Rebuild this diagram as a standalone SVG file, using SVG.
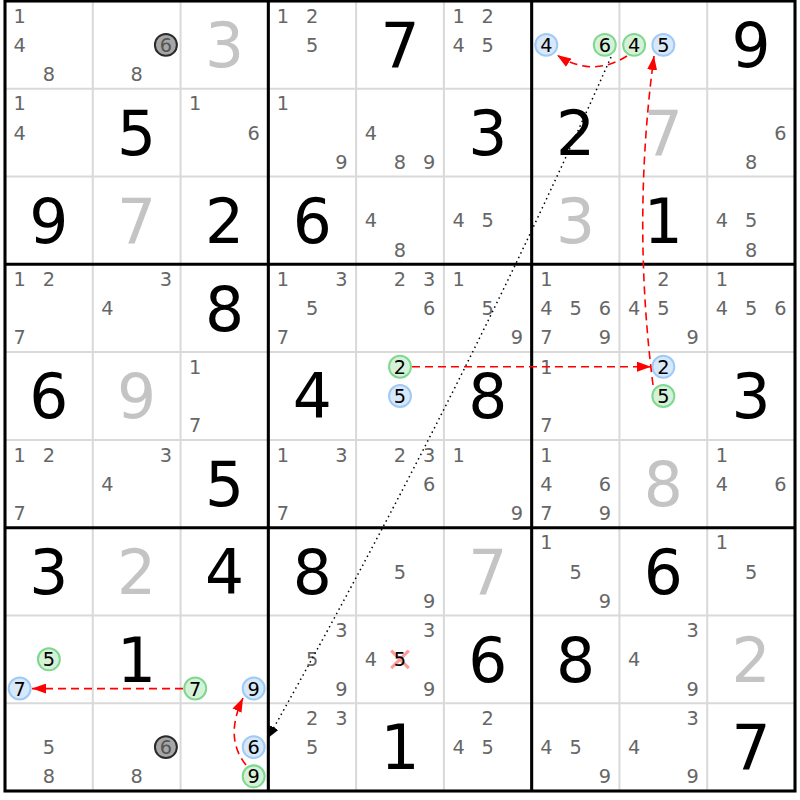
<svg xmlns="http://www.w3.org/2000/svg" width="800" height="800" viewBox="0 0 800 800">
<style>
text{font-family:"DejaVu Sans","Liberation Sans",sans-serif;text-anchor:middle}
.c{font-size:22px;fill:#666}
.k{font-size:22px;fill:#000}
.gk{font-size:22px;fill:#555}
.g{font-size:70px;fill:#000}
.s{font-size:70px;fill:#c4c4c4}
.hb{fill:#d8e8fb;stroke:#9fcaf5;stroke-width:2.3}
.hg{fill:#d5f2d8;stroke:#80d890;stroke-width:2.3}
.hx{fill:#a6a6a6;stroke:#2a2a2a;stroke-width:2.3}
.thin{stroke:#d9d9d9;stroke-width:2.3}
.thick{stroke:#000;stroke-width:3.5;fill:none}
.red{fill:none;stroke:#f00;stroke-width:1.6;stroke-dasharray:8 5}
.dot{fill:none;stroke:#000;stroke-width:1.5;stroke-dasharray:1.5 3.5}
</style>
<defs>
<marker id="ar" viewBox="0 0 14 10" refX="14" refY="5" markerWidth="14" markerHeight="10" markerUnits="userSpaceOnUse" orient="auto"><path d="M0,0 L14,5 L0,10 z" fill="#f00"/></marker>
<marker id="ab" viewBox="0 0 12 10" refX="12" refY="5" markerWidth="12" markerHeight="10" markerUnits="userSpaceOnUse" orient="auto"><path d="M0,0 L12,5 L0,10 z" fill="#000"/></marker>
</defs>
<rect width="800" height="800" fill="#fff"/>
<g id="board" transform="translate(5,1) scale(0.87778)">
<g id="grid">
<path class="thin" d="M100,0V900M200,0V900M400,0V900M500,0V900M700,0V900M800,0V900M0,100H900M0,200H900M0,400H900M0,500H900M0,700H900M0,800H900"/>
<path class="thick" d="M300,0V900M600,0V900M0,300H900M0,600H900"/>
<rect class="thick" x="0" y="0" width="900" height="900"/>
</g>
<!-- Row 1 -->
<g id="r1c1" transform="translate(0,0)"><text class="c" x="16.7" y="24.7">1</text><text class="c" x="16.7" y="58">4</text><text class="c" x="50" y="91.3">8</text></g>
<g id="r1c2" transform="translate(100,0)"><circle class="hx" cx="83.3" cy="50" r="12.5"/><text class="gk" x="83.3" y="58">6</text><text class="c" x="50" y="91.3">8</text></g>
<g id="r1c3" transform="translate(200,0)"><text class="s" x="50" y="75.5">3</text></g>
<g id="r1c4" transform="translate(300,0)"><text class="c" x="16.7" y="24.7">1</text><text class="c" x="50" y="24.7">2</text><text class="c" x="50" y="58">5</text></g>
<g id="r1c5" transform="translate(400,0)"><text class="g" x="50" y="75.5">7</text></g>
<g id="r1c6" transform="translate(500,0)"><text class="c" x="16.7" y="24.7">1</text><text class="c" x="50" y="24.7">2</text><text class="c" x="16.7" y="58">4</text><text class="c" x="50" y="58">5</text></g>
<g id="r1c7" transform="translate(600,0)"><circle class="hb" cx="16.7" cy="50" r="12.5"/><text class="k" x="16.7" y="58">4</text><circle class="hg" cx="83.3" cy="50" r="12.5"/><text class="k" x="83.3" y="58">6</text></g>
<g id="r1c8" transform="translate(700,0)"><circle class="hg" cx="16.7" cy="50" r="12.5"/><text class="k" x="16.7" y="58">4</text><circle class="hb" cx="50" cy="50" r="12.5"/><text class="k" x="50" y="58">5</text></g>
<g id="r1c9" transform="translate(800,0)"><text class="g" x="50" y="75.5">9</text></g>
<!-- Row 2 -->
<g id="r2c1" transform="translate(0,100)"><text class="c" x="16.7" y="24.7">1</text><text class="c" x="16.7" y="58">4</text></g>
<g id="r2c2" transform="translate(100,100)"><text class="g" x="50" y="75.5">5</text></g>
<g id="r2c3" transform="translate(200,100)"><text class="c" x="16.7" y="24.7">1</text><text class="c" x="83.3" y="58">6</text></g>
<g id="r2c4" transform="translate(300,100)"><text class="c" x="16.7" y="24.7">1</text><text class="c" x="83.3" y="91.3">9</text></g>
<g id="r2c5" transform="translate(400,100)"><text class="c" x="16.7" y="58">4</text><text class="c" x="50" y="91.3">8</text><text class="c" x="83.3" y="91.3">9</text></g>
<g id="r2c6" transform="translate(500,100)"><text class="g" x="50" y="75.5">3</text></g>
<g id="r2c7" transform="translate(600,100)"><text class="g" x="50" y="75.5">2</text></g>
<g id="r2c8" transform="translate(700,100)"><text class="s" x="50" y="75.5">7</text></g>
<g id="r2c9" transform="translate(800,100)"><text class="c" x="83.3" y="58">6</text><text class="c" x="50" y="91.3">8</text></g>
<!-- Row 3 -->
<g id="r3c1" transform="translate(0,200)"><text class="g" x="50" y="75.5">9</text></g>
<g id="r3c2" transform="translate(100,200)"><text class="s" x="50" y="75.5">7</text></g>
<g id="r3c3" transform="translate(200,200)"><text class="g" x="50" y="75.5">2</text></g>
<g id="r3c4" transform="translate(300,200)"><text class="g" x="50" y="75.5">6</text></g>
<g id="r3c5" transform="translate(400,200)"><text class="c" x="16.7" y="58">4</text><text class="c" x="50" y="91.3">8</text></g>
<g id="r3c6" transform="translate(500,200)"><text class="c" x="16.7" y="58">4</text><text class="c" x="50" y="58">5</text></g>
<g id="r3c7" transform="translate(600,200)"><text class="s" x="50" y="75.5">3</text></g>
<g id="r3c8" transform="translate(700,200)"><text class="g" x="50" y="75.5">1</text></g>
<g id="r3c9" transform="translate(800,200)"><text class="c" x="16.7" y="58">4</text><text class="c" x="50" y="58">5</text><text class="c" x="50" y="91.3">8</text></g>
<!-- Row 4 -->
<g id="r4c1" transform="translate(0,300)"><text class="c" x="16.7" y="24.7">1</text><text class="c" x="50" y="24.7">2</text><text class="c" x="16.7" y="91.3">7</text></g>
<g id="r4c2" transform="translate(100,300)"><text class="c" x="83.3" y="24.7">3</text><text class="c" x="16.7" y="58">4</text></g>
<g id="r4c3" transform="translate(200,300)"><text class="g" x="50" y="75.5">8</text></g>
<g id="r4c4" transform="translate(300,300)"><text class="c" x="16.7" y="24.7">1</text><text class="c" x="83.3" y="24.7">3</text><text class="c" x="50" y="58">5</text><text class="c" x="16.7" y="91.3">7</text></g>
<g id="r4c5" transform="translate(400,300)"><text class="c" x="50" y="24.7">2</text><text class="c" x="83.3" y="24.7">3</text><text class="c" x="83.3" y="58">6</text></g>
<g id="r4c6" transform="translate(500,300)"><text class="c" x="16.7" y="24.7">1</text><text class="c" x="50" y="58">5</text><text class="c" x="83.3" y="91.3">9</text></g>
<g id="r4c7" transform="translate(600,300)"><text class="c" x="16.7" y="24.7">1</text><text class="c" x="16.7" y="58">4</text><text class="c" x="50" y="58">5</text><text class="c" x="83.3" y="58">6</text><text class="c" x="16.7" y="91.3">7</text><text class="c" x="83.3" y="91.3">9</text></g>
<g id="r4c8" transform="translate(700,300)"><text class="c" x="50" y="24.7">2</text><text class="c" x="16.7" y="58">4</text><text class="c" x="50" y="58">5</text><text class="c" x="83.3" y="91.3">9</text></g>
<g id="r4c9" transform="translate(800,300)"><text class="c" x="16.7" y="24.7">1</text><text class="c" x="16.7" y="58">4</text><text class="c" x="50" y="58">5</text><text class="c" x="83.3" y="58">6</text></g>
<!-- Row 5 -->
<g id="r5c1" transform="translate(0,400)"><text class="g" x="50" y="75.5">6</text></g>
<g id="r5c2" transform="translate(100,400)"><text class="s" x="50" y="75.5">9</text></g>
<g id="r5c3" transform="translate(200,400)"><text class="c" x="16.7" y="24.7">1</text><text class="c" x="16.7" y="91.3">7</text></g>
<g id="r5c4" transform="translate(300,400)"><text class="g" x="50" y="75.5">4</text></g>
<g id="r5c5" transform="translate(400,400)"><circle class="hg" cx="50" cy="16.7" r="12.5"/><text class="k" x="50" y="24.7">2</text><circle class="hb" cx="50" cy="50" r="12.5"/><text class="k" x="50" y="58">5</text></g>
<g id="r5c6" transform="translate(500,400)"><text class="g" x="50" y="75.5">8</text></g>
<g id="r5c7" transform="translate(600,400)"><text class="c" x="16.7" y="24.7">1</text><text class="c" x="16.7" y="91.3">7</text></g>
<g id="r5c8" transform="translate(700,400)"><circle class="hb" cx="50" cy="16.7" r="12.5"/><text class="k" x="50" y="24.7">2</text><circle class="hg" cx="50" cy="50" r="12.5"/><text class="k" x="50" y="58">5</text></g>
<g id="r5c9" transform="translate(800,400)"><text class="g" x="50" y="75.5">3</text></g>
<!-- Row 6 -->
<g id="r6c1" transform="translate(0,500)"><text class="c" x="16.7" y="24.7">1</text><text class="c" x="50" y="24.7">2</text><text class="c" x="16.7" y="91.3">7</text></g>
<g id="r6c2" transform="translate(100,500)"><text class="c" x="83.3" y="24.7">3</text><text class="c" x="16.7" y="58">4</text></g>
<g id="r6c3" transform="translate(200,500)"><text class="g" x="50" y="75.5">5</text></g>
<g id="r6c4" transform="translate(300,500)"><text class="c" x="16.7" y="24.7">1</text><text class="c" x="83.3" y="24.7">3</text><text class="c" x="16.7" y="91.3">7</text></g>
<g id="r6c5" transform="translate(400,500)"><text class="c" x="50" y="24.7">2</text><text class="c" x="83.3" y="24.7">3</text><text class="c" x="83.3" y="58">6</text></g>
<g id="r6c6" transform="translate(500,500)"><text class="c" x="16.7" y="24.7">1</text><text class="c" x="83.3" y="91.3">9</text></g>
<g id="r6c7" transform="translate(600,500)"><text class="c" x="16.7" y="24.7">1</text><text class="c" x="16.7" y="58">4</text><text class="c" x="83.3" y="58">6</text><text class="c" x="16.7" y="91.3">7</text><text class="c" x="83.3" y="91.3">9</text></g>
<g id="r6c8" transform="translate(700,500)"><text class="s" x="50" y="75.5">8</text></g>
<g id="r6c9" transform="translate(800,500)"><text class="c" x="16.7" y="24.7">1</text><text class="c" x="16.7" y="58">4</text><text class="c" x="83.3" y="58">6</text></g>
<!-- Row 7 -->
<g id="r7c1" transform="translate(0,600)"><text class="g" x="50" y="75.5">3</text></g>
<g id="r7c2" transform="translate(100,600)"><text class="s" x="50" y="75.5">2</text></g>
<g id="r7c3" transform="translate(200,600)"><text class="g" x="50" y="75.5">4</text></g>
<g id="r7c4" transform="translate(300,600)"><text class="g" x="50" y="75.5">8</text></g>
<g id="r7c5" transform="translate(400,600)"><text class="c" x="50" y="58">5</text><text class="c" x="83.3" y="91.3">9</text></g>
<g id="r7c6" transform="translate(500,600)"><text class="s" x="50" y="75.5">7</text></g>
<g id="r7c7" transform="translate(600,600)"><text class="c" x="16.7" y="24.7">1</text><text class="c" x="50" y="58">5</text><text class="c" x="83.3" y="91.3">9</text></g>
<g id="r7c8" transform="translate(700,600)"><text class="g" x="50" y="75.5">6</text></g>
<g id="r7c9" transform="translate(800,600)"><text class="c" x="16.7" y="24.7">1</text><text class="c" x="50" y="58">5</text></g>
<!-- Row 8 -->
<g id="r8c1" transform="translate(0,700)"><circle class="hg" cx="50" cy="50" r="12.5"/><text class="k" x="50" y="58">5</text><circle class="hb" cx="16.7" cy="83.3" r="12.5"/><text class="k" x="16.7" y="91.3">7</text></g>
<g id="r8c2" transform="translate(100,700)"><text class="g" x="50" y="75.5">1</text></g>
<g id="r8c3" transform="translate(200,700)"><circle class="hg" cx="16.7" cy="83.3" r="12.5"/><text class="k" x="16.7" y="91.3">7</text><circle class="hb" cx="83.3" cy="83.3" r="12.5"/><text class="k" x="83.3" y="91.3">9</text></g>
<g id="r8c4" transform="translate(300,700)"><text class="c" x="83.3" y="24.7">3</text><text class="c" x="50" y="58">5</text><text class="c" x="83.3" y="91.3">9</text></g>
<g id="r8c5" transform="translate(400,700)"><text class="c" x="83.3" y="24.7">3</text><text class="c" x="16.7" y="58">4</text><path d="M40,40L60,60M60,40L40,60" stroke="#ff8a8a" stroke-width="3.5" opacity="0.85"/><text class="k" x="50" y="58">5</text><text class="c" x="83.3" y="91.3">9</text></g>
<g id="r8c6" transform="translate(500,700)"><text class="g" x="50" y="75.5">6</text></g>
<g id="r8c7" transform="translate(600,700)"><text class="g" x="50" y="75.5">8</text></g>
<g id="r8c8" transform="translate(700,700)"><text class="c" x="83.3" y="24.7">3</text><text class="c" x="16.7" y="58">4</text><text class="c" x="83.3" y="91.3">9</text></g>
<g id="r8c9" transform="translate(800,700)"><text class="s" x="50" y="75.5">2</text></g>
<!-- Row 9 -->
<g id="r9c1" transform="translate(0,800)"><text class="c" x="50" y="58">5</text><text class="c" x="50" y="91.3">8</text></g>
<g id="r9c2" transform="translate(100,800)"><circle class="hx" cx="83.3" cy="50" r="12.5"/><text class="gk" x="83.3" y="58">6</text><text class="c" x="50" y="91.3">8</text></g>
<g id="r9c3" transform="translate(200,800)"><circle class="hb" cx="83.3" cy="50" r="12.5"/><text class="k" x="83.3" y="58">6</text><circle class="hg" cx="83.3" cy="83.3" r="12.5"/><text class="k" x="83.3" y="91.3">9</text></g>
<g id="r9c4" transform="translate(300,800)"><text class="c" x="50" y="24.7">2</text><text class="c" x="83.3" y="24.7">3</text><text class="c" x="50" y="58">5</text></g>
<g id="r9c5" transform="translate(400,800)"><text class="g" x="50" y="75.5">1</text></g>
<g id="r9c6" transform="translate(500,800)"><text class="c" x="50" y="24.7">2</text><text class="c" x="16.7" y="58">4</text><text class="c" x="50" y="58">5</text></g>
<g id="r9c7" transform="translate(600,800)"><text class="c" x="16.7" y="58">4</text><text class="c" x="50" y="58">5</text><text class="c" x="83.3" y="91.3">9</text></g>
<g id="r9c8" transform="translate(700,800)"><text class="c" x="83.3" y="24.7">3</text><text class="c" x="16.7" y="58">4</text><text class="c" x="83.3" y="91.3">9</text></g>
<g id="r9c9" transform="translate(800,800)"><text class="g" x="50" y="75.5">7</text></g>
</g>
<g id="connectors">
<path class="red" d="M627,56 Q592,78 557,55" marker-end="url(#ar)"/>
<path class="red" d="M653,385 Q632,220 654,56" marker-end="url(#ar)"/>
<path class="red" d="M412,366.7 L651,366.7" marker-end="url(#ar)"/>
<path class="red" d="M183,688.6 L32,688.6" marker-end="url(#ar)"/>
<path class="red" d="M246,765 Q224,738 243,698" marker-end="url(#ar)"/>
<path class="dot" d="M611,57 Q466,386 268,738" marker-end="url(#ab)"/>
</g>
</svg>
